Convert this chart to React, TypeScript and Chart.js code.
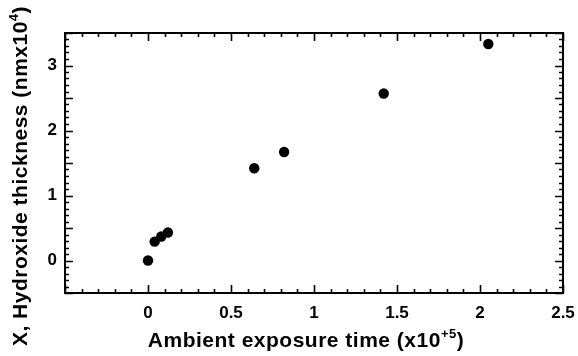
import { useEffect, useRef } from 'react';
import { Chart, registerables } from 'chart.js';

Chart.register(...registerables);

// Data
const exposureTime = [0, 0.04, 0.08, 0.12, 0.64, 0.82, 1.42, 2.05];
const hydroxideThickness = [0, 0.29, 0.37, 0.43, 1.42, 1.67, 2.57, 3.33];

// Axis settings
const xTickLabels = [0, 0.5, 1, 1.5, 2, 2.5];
const yTickLabels = [0, 1, 2, 3];
const xRange = [-0.5, 2.5];
const yRange = [-0.5, 3.5];
const minorStep = 0.1;
const majorEvery = 5;

const xTitle = [
  { text: 'Ambient exposure time (x10', sup: false },
  { text: '+5', sup: true },
  { text: ')', sup: false },
];
const yTitle = [
  { text: 'X, Hydroxide thickness (nmx10', sup: false },
  { text: '4', sup: true },
  { text: ')', sup: false },
];

const FONT = '"Liberation Sans", Arial, Helvetica, sans-serif';

type Seg = { text: string; sup: boolean };

function drawRich(ctx: CanvasRenderingContext2D, segs: Seg[], size: number, cx: number, baseline: number) {
  const mainFont = `bold ${size}px ${FONT}`;
  const supFont = `bold ${Math.round(size * 0.62)}px ${FONT}`;
  (ctx as any).letterSpacing = '0.5px';
  let total = 0;
  const widths = segs.map((s) => {
    ctx.font = s.sup ? supFont : mainFont;
    const w = ctx.measureText(s.text).width;
    total += w;
    return w;
  });
  let x = cx - total / 2;
  ctx.textAlign = 'left';
  ctx.textBaseline = 'alphabetic';
  ctx.fillStyle = '#000';
  segs.forEach((s, i) => {
    ctx.font = s.sup ? supFont : mainFont;
    ctx.fillText(s.text, x, s.sup ? baseline - size * 0.42 : baseline);
    x += widths[i];
  });
  (ctx as any).letterSpacing = '0px';
}

const framePlugin = {
  id: 'framePlugin',
  afterDraw(chart: any) {
    const { ctx, chartArea } = chart;
    const xs = chart.scales.x;
    const ys = chart.scales.y;
    const { left, right, top, bottom } = chartArea;
    ctx.save();
    ctx.strokeStyle = '#000';
    ctx.lineWidth = 2;
    ctx.strokeRect(left, top, right - left, bottom - top);
    ctx.lineWidth = 1.6;
    ctx.beginPath();
    const nx = Math.round((xRange[1] - xRange[0]) / minorStep);
    for (let i = 0; i <= nx; i++) {
      const v = xRange[0] + i * minorStep;
      const px = Math.round(xs.getPixelForValue(v)) + 0.5;
      const len = i % majorEvery === 0 ? 8 : 4;
      ctx.moveTo(px, bottom);
      ctx.lineTo(px, bottom - len);
      ctx.moveTo(px, top);
      ctx.lineTo(px, top + len);
    }
    const ny = Math.round((yRange[1] - yRange[0]) / minorStep);
    for (let i = 0; i <= ny; i++) {
      const v = yRange[0] + i * minorStep;
      const py = Math.round(ys.getPixelForValue(v)) + 0.5;
      const len = i % majorEvery === 0 ? 8 : 4;
      ctx.moveTo(left, py);
      ctx.lineTo(left + len, py);
      ctx.moveTo(right, py);
      ctx.lineTo(right - len, py);
    }
    ctx.stroke();

    // axis titles
    drawRich(ctx, xTitle, 21, 306, 347);
    ctx.save();
    ctx.translate(27, 176);
    ctx.rotate(-Math.PI / 2);
    drawRich(ctx, yTitle, 21, 0, 0);
    ctx.restore();
    ctx.restore();
  },
};

export default function App() {
  const ref = useRef<HTMLCanvasElement | null>(null);
  useEffect(() => {
    document.body.style.margin = '0';
    const canvas = ref.current;
    if (!canvas) return;
    const chart = new Chart(canvas, {
      type: 'scatter',
      data: {
        datasets: [
          {
            data: exposureTime.map((x, i) => ({ x, y: hydroxideThickness[i] })),
            backgroundColor: '#000',
            borderWidth: 0,
            pointRadius: 5.2,
            pointHoverRadius: 5.2,
          },
        ],
      },
      options: {
        animation: false,
        responsive: false,
        devicePixelRatio: 1,
        layout: { padding: { top: 33, right: 15, left: 0, bottom: 0 } },
        plugins: { legend: { display: false }, tooltip: { enabled: false } },
        scales: {
          x: {
            type: 'linear',
            min: xRange[0],
            max: xRange[1],
            afterBuildTicks: (s: any) => {
              s.ticks = xTickLabels.map((v) => ({ value: v }));
            },
            afterFit: (s: any) => {
              s.height = 63;
              s.paddingLeft = 0;
              s.paddingRight = 0;
            },
            grid: { display: false, drawTicks: false },
            border: { display: false },
            ticks: {
              padding: 10,
              color: '#000',
              font: { family: FONT, size: 17, weight: 'bold' },
              maxRotation: 0,
              autoSkip: false,
              callback: (v: any) => String(v),
            },
          },
          y: {
            type: 'linear',
            min: yRange[0],
            max: yRange[1],
            afterBuildTicks: (s: any) => {
              s.ticks = yTickLabels.map((v) => ({ value: v }));
            },
            afterFit: (s: any) => {
              s.width = 65;
              s.paddingTop = 0;
              s.paddingBottom = 0;
            },
            grid: { display: false, drawTicks: false },
            border: { display: false },
            ticks: {
              padding: 8,
              color: '#000',
              font: { family: FONT, size: 17, weight: 'bold' },
              autoSkip: false,
              callback: (v: any) => String(v),
            },
          },
        },
      },
      plugins: [framePlugin],
    });
    return () => chart.destroy();
  }, []);
  return (
    <div style={{ width: 578, height: 356 }}>
      <canvas ref={ref} width={578} height={356} />
    </div>
  );
}
